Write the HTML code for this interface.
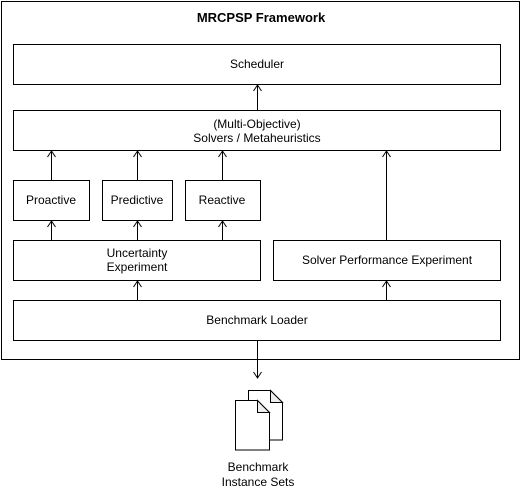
<html><body style="margin:0;background:#fff">
<svg width="522" height="491" xmlns="http://www.w3.org/2000/svg" font-family="Liberation Sans, sans-serif" font-size="12">
<rect x="1.5" y="1.5" width="518" height="358" fill="#fff" stroke="#000"/>
<text x="261" y="22" text-anchor="middle" font-weight="bold" font-size="13">MRCPSP Framework</text>
<g fill="#fff" stroke="#000">
<rect x="13.5" y="44.5" width="487" height="40"/>
<rect x="13.5" y="110.5" width="487" height="40"/>
<rect x="13.5" y="180.5" width="76" height="40"/>
<rect x="102.5" y="180.5" width="70" height="40"/>
<rect x="185.5" y="180.5" width="75" height="40"/>
<rect x="13.5" y="240.5" width="247" height="40"/>
<rect x="273.5" y="240.5" width="227" height="40"/>
<rect x="13.5" y="300.5" width="487" height="40"/>
</g>
<g text-anchor="middle">
<text x="257" y="68">Scheduler</text>
<text x="257" y="128">(Multi-Objective)</text>
<text x="257" y="142">Solvers / Metaheuristics</text>
<text x="51" y="204">Proactive</text>
<text x="137" y="204">Predictive</text>
<text x="222" y="204">Reactive</text>
<text x="137" y="257">Uncertainty</text>
<text x="137" y="271">Experiment</text>
<text x="387" y="264">Solver Performance Experiment</text>
<text x="257" y="324">Benchmark Loader</text>
<text x="258" y="471">Benchmark</text>
<text x="258" y="486">Instance Sets</text>
</g>
<g stroke="#000" fill="none">
<path d="M257.5 110V85M253.5 91l4-6 4 6"/>
<path d="M51.5 180V151M47.5 157l4-6 4 6"/>
<path d="M137.5 180V151M133.5 157l4-6 4 6"/>
<path d="M222.5 180V151M218.5 157l4-6 4 6"/>
<path d="M386.5 240V151M382.5 157l4-6 4 6"/>
<path d="M51.5 240V221M47.5 227l4-6 4 6"/>
<path d="M137.5 240V221M133.5 227l4-6 4 6"/>
<path d="M222.5 240V221M218.5 227l4-6 4 6"/>
<path d="M137.5 300V281M133.5 287l4-6 4 6"/>
<path d="M386.5 300V281M382.5 287l4-6 4 6"/>
<path d="M257.5 341V378M253.5 372l4 6 4-6"/>
</g>
<g stroke="#000">
<path d="M248.5 390.5h22l12 12v37.5h-34z" fill="#fff"/>
<path d="M270.5 390.5v12h12z" fill="#eee"/>
<path d="M235.5 400.5h22l12 12v37.5h-34z" fill="#fff"/>
<path d="M257.5 400.5v12h12z" fill="#eee"/>
</g>
</svg>
</body></html>
